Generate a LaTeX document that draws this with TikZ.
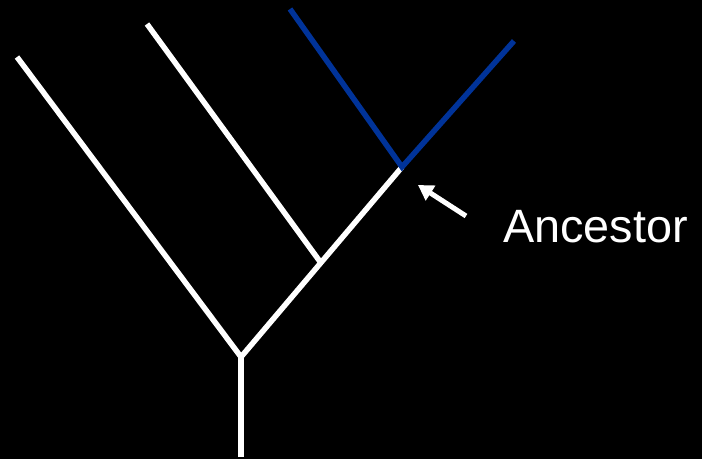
\documentclass[tikz,border=0pt]{standalone}
\usepackage{fontspec}
\setmainfont{Liberation Sans}
\usetikzlibrary{arrows.meta}
\definecolor{cladeblue}{RGB}{0,51,153}
\begin{document}
\begin{tikzpicture}[x=1pt,y=-1pt,
  branch/.style={white,line width=5.5pt,line cap=butt},
  blueb/.style={cladeblue,line width=5.5pt},
  pointer/.style={white,line width=5pt,-{Triangle[length=15pt,width=17pt]}}]
\fill[black] (0,0) rectangle (702,459);
\useasboundingbox (0,0) rectangle (702,459);
\coordinate (root) at (241,457);
\coordinate (fork) at (241,357);
\coordinate (leftTip) at (17,57);
\coordinate (mid) at (321,263);
\coordinate (midTip) at (147,24);
\coordinate (anc) at (402,167);
\coordinate (blueL) at (290,9);
\coordinate (blueR) at (514,41);
\coordinate (arrTail) at (466,216);
\coordinate (arrHead) at (418,185);
\draw[branch] (root) -- (fork);
\draw[branch,line join=miter] (leftTip) -- (fork) -- (anc);
\draw[branch] (mid) -- (midTip);
\draw[blueb,line join=miter] (blueL) -- (anc) -- (blueR);
\draw[pointer] (arrTail) -- (arrHead);
\node[white,font=\fontsize{46.8}{52}\selectfont,anchor=base west,inner sep=0] (lbl) at (503,242) {Ancestor};
\end{tikzpicture}
\end{document}
